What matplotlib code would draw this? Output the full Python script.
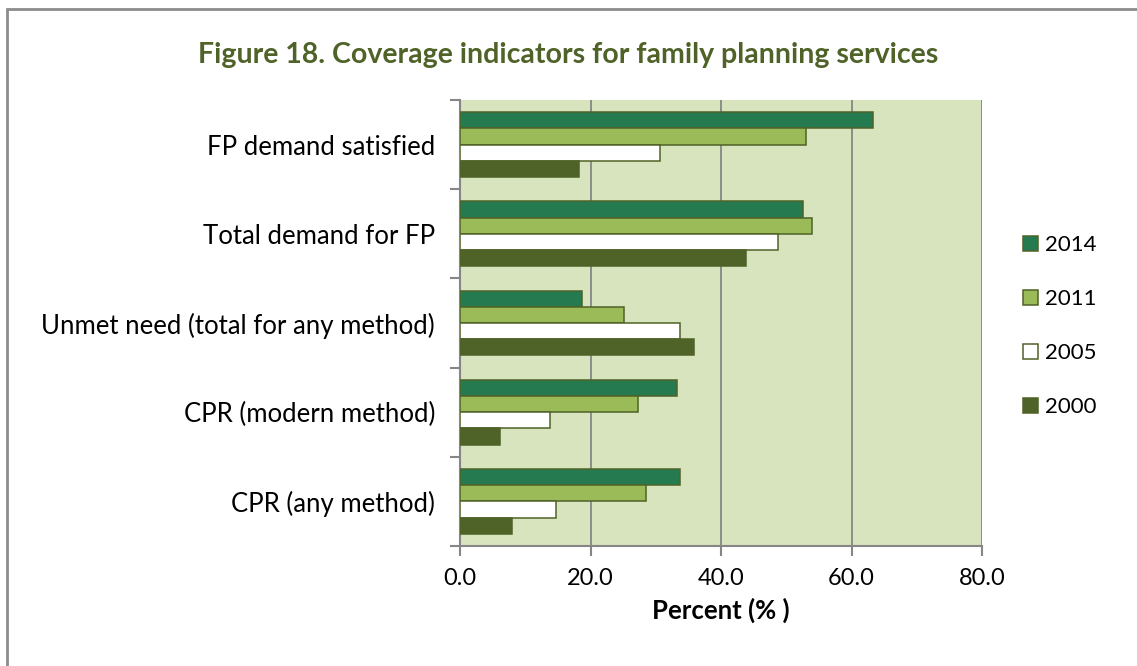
import matplotlib.pyplot as plt
from matplotlib.patches import Rectangle
import numpy as np

plt.rcParams['font.family'] = ['Lato', 'DejaVu Sans']

categories = ['CPR (any method)', 'CPR (modern method)', 'Unmet need (total for any method)',
              'Total demand for FP', 'FP demand satisfied']
years = ['2014', '2011', '2005', '2000']
v2014 = [33.7, 33.3, 18.7, 52.6, 63.3]
v2011 = [28.5, 27.3, 25.2, 53.9, 53.1]
v2005 = [14.7, 13.8, 33.7, 48.7, 30.7]
v2000 = [7.9, 6.1, 35.8, 43.8, 18.3]
series = [v2014, v2011, v2005, v2000]
colors = ['#267A50', '#9BBB59', '#FFFFFF', '#4F6228']
edge = '#4F6228'

fig = plt.figure(figsize=(11.37, 6.66), dpi=100)
ax = fig.add_axes([460/1137, 1-546/666, 522/1137, 446/666])
ax.set_facecolor('#D7E4BD')

h = 0.182
y = np.arange(len(categories))
offsets = [1.5, 0.5, -0.5, -1.5]
for vals, col, off, yr in zip(series, colors, offsets, years):
    ax.barh(y + off*h, vals, height=h, color=col, edgecolor=edge, linewidth=1.1,
            label=yr, zorder=3)

ax.set_xlim(0, 80)
ax.set_ylim(-0.5, 4.5)
ax.set_xticks([0, 20, 40, 60, 80])
ax.set_xticklabels(['0.0', '20.0', '40.0', '60.0', '80.0'], fontsize=17)
ax.set_yticks(y)
ax.set_yticklabels(categories, fontsize=18.5)
ax.set_yticks(np.arange(-0.5, 5, 1), minor=True)
ax.tick_params(axis='y', which='major', length=0, pad=18)
ax.tick_params(axis='y', which='minor', length=7, color='#868686', width=1.5)
ax.tick_params(axis='x', length=7, color='#868686', width=1.5, pad=9)
ax.grid(axis='x', color='#868686', linewidth=1.3, zorder=0)
for s in ['top', 'right']:
    ax.spines[s].set_visible(False)
for s in ['left', 'bottom']:
    ax.spines[s].set_color('#868686')
    ax.spines[s].set_linewidth(1.5)
ax.set_xlabel('Percent (% )', fontsize=18.5, fontweight='bold', labelpad=6)

fig.text(0.5, 1-55/666, 'Figure 18. Coverage indicators for family planning services',
         ha='center', va='center', fontsize=20.5, fontweight='bold', color='#4F6228')

ax.legend(loc='center left', bbox_to_anchor=(1.04, 0.493), frameon=False, fontsize=16,
          handlelength=0.7, handleheight=0.7, handletextpad=0.3, labelspacing=1.53)

fig.patches.append(Rectangle((7/1137, -0.1), 1.2, 1.1-9/666, transform=fig.transFigure,
                             fill=False, edgecolor='#8C8C8C', linewidth=2))

plt.savefig('out.png', dpi=100)
